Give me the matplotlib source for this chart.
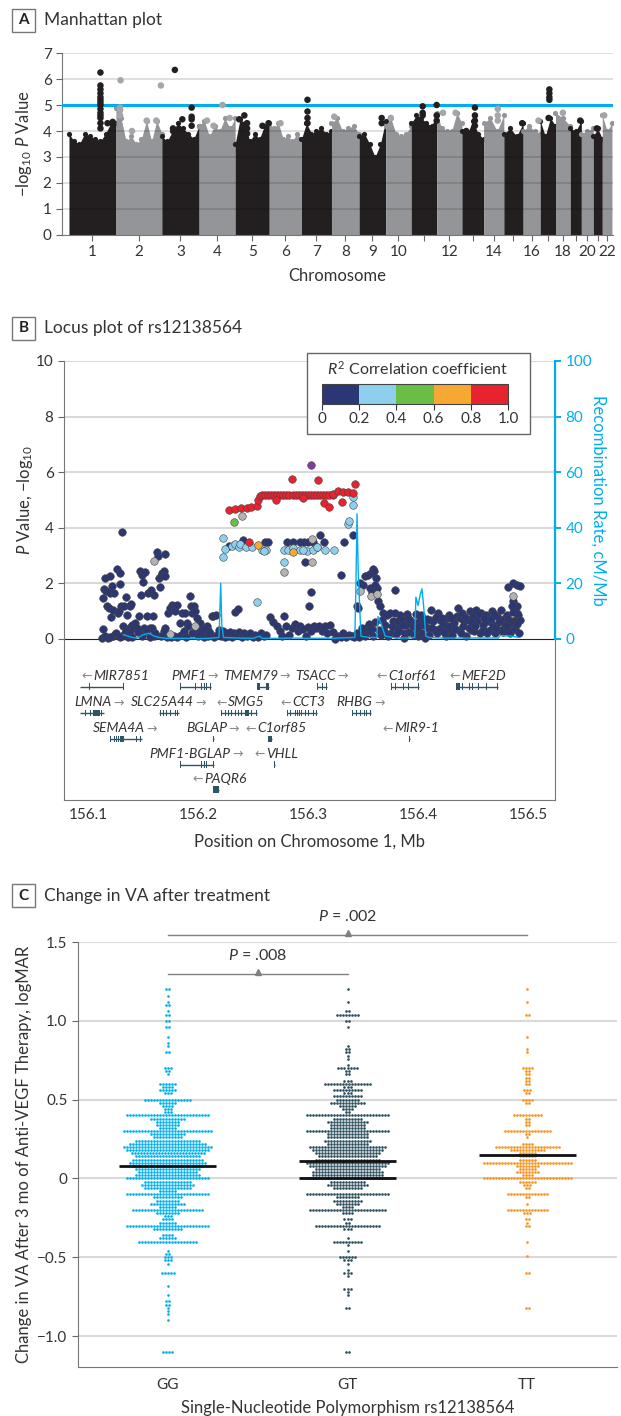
import numpy as np
import matplotlib as mpl
import matplotlib.pyplot as plt
from matplotlib.patches import Rectangle
from matplotlib.colors import ListedColormap, BoundaryNorm

plt.rcParams['font.family'] = ['Lato', 'DejaVu Sans']
plt.rcParams['mathtext.fontset'] = 'custom'
plt.rcParams['mathtext.rm'] = 'Lato'
plt.rcParams['mathtext.it'] = 'Lato:italic'
plt.rcParams['text.color'] = '#333333'
plt.rcParams['axes.labelcolor'] = '#333333'
plt.rcParams['xtick.color'] = '#666666'
plt.rcParams['ytick.color'] = '#666666'
plt.rcParams['xtick.labelcolor'] = '#333333'
plt.rcParams['ytick.labelcolor'] = '#333333'

# ---------------- Panel A: Manhattan plot data ----------------
chr_names = [str(i) for i in range(1, 23)]
chr_len = [249.3, 243.2, 198.0, 191.2, 180.9, 171.1, 159.1, 146.4, 141.2, 135.5, 135.0,
           133.9, 115.2, 107.3, 102.5, 90.4, 81.2, 78.1, 59.1, 63.0, 48.1, 51.3]
# top of the dense mass of SNPs along each chromosome (-log10 P)
chr_env = [
    [3.9, 3.6, 3.5, 3.9, 3.8, 3.7, 3.6, 3.9, 4.3, 4.3],
    [4.9, 4.5, 3.6, 3.8, 3.5, 3.7, 4.4, 3.6, 4.4, 3.9],
    [3.8, 3.6, 4.0, 4.3, 4.1, 3.9, 3.7, 4.2],
    [4.2, 4.4, 3.8, 4.2, 4.0, 4.5, 4.1, 4.5],
    [3.5, 4.45, 4.3, 3.6, 3.9, 3.7, 4.2, 4.3],
    [4.3, 4.1, 4.3, 3.7, 3.8, 3.6, 3.9, 3.7],
    [3.7, 4.3, 3.9, 4.0, 4.1, 3.9, 4.0],
    [4.3, 4.5, 4.0, 4.1, 4.2, 3.9],
    [3.8, 3.9, 3.5, 3.0, 3.5, 4.4],
    [4.2, 4.5, 3.9, 3.8, 3.9, 4.2],
    [4.3, 4.6, 4.5, 4.3, 4.2, 4.6],
    [4.7, 4.1, 4.0, 4.0, 4.7, 4.3],
    [4.0, 3.9, 4.4, 3.9, 3.7],
    [4.3, 4.5, 4.0, 4.6],
    [3.9, 4.1, 3.8, 4.3],
    [4.0, 4.2, 4.0, 3.9],
    [4.4, 3.8, 4.5, 4.2],
    [4.7, 4.5, 4.2],
    [4.1, 4.0, 4.4],
    [3.9, 4.0, 4.1],
    [3.8, 4.1, 3.7],
    [4.6, 4.0, 4.3],
]
# isolated top SNPs: chromosome index, relative position on chromosome, -log10 P
hit_chr = [0] * 16 + [1] * 8 + [2] * 7 + [3] * 4 + [4] * 7 + [5] + [6] * 4 + [7] + [8] * 2 + [9] \
    + [10] * 6 + [11] * 2 + [12] * 5 + [13] * 3 + [14] + [15] + [16] * 5 + [17] + [18] + [20] + [21]
hit_pos = [0.67] * 14 + [0.82, 0.93] \
    + [0.1, 0.09, 0.09, 0.09, 0.35, 0.67, 0.88, 0.98] \
    + [0.35, 0.8, 0.8, 0.8, 0.8, 0.55, 0.3] \
    + [0.65, 0.22, 0.4, 0.85] \
    + [0.27, 0.12, 0.35, 0.35, 0.35, 0.8, 0.98] \
    + [0.35] + [0.2] * 4 + [0.1] + [0.85, 0.85] + [0.2] \
    + [0.45, 0.45, 0.45, 1.0, 1.0, 1.0] + [0.25, 0.75] \
    + [0.6, 0.6, 0.6, 0.6, 0.2] + [0.7, 0.7, 0.7] + [0.95] + [0.9] \
    + [0.6, 0.6, 0.6, 0.6, 0.55] + [0.5] + [0.9] + [0.4] + [0.2]
hit_val = [6.25, 5.75, 5.6, 5.45, 5.3, 5.2, 5.1, 5.0, 4.85, 4.7, 4.6, 4.5, 4.3, 4.1, 4.3, 4.35,
           5.95, 4.9, 4.8, 4.6, 4.0, 4.4, 4.4, 5.75,
           6.35, 4.9, 4.55, 4.45, 4.2, 4.45, 4.1,
           5.0, 4.4, 4.2, 4.5,
           4.6, 4.45, 4.3, 4.1, 3.9, 4.2, 4.3,
           4.3, 5.2, 4.75, 4.5, 4.3, 4.55, 4.5, 4.3, 4.5,
           4.95, 4.7, 4.6, 5.0, 4.6, 4.4, 4.7, 4.7,
           4.9, 4.6, 4.4, 4.2, 4.0, 4.85, 4.6, 4.4, 4.3, 4.4,
           5.6, 5.45, 5.3, 5.2, 4.5, 4.7, 4.4, 4.1, 4.6]
threshold = 5.0

# ---------------- Panel B: locus plot data ----------------
navy_pts = [
    (156.1124, 0.04), (156.1133, 0.36), (156.1139, 1.47), (156.1145, 1.79), (156.1155, 2.19),
    (156.1164, 1.71), (156.117, 1.17), (156.1176, 0.04), (156.1185, 1.11), (156.1194, 2.27),
    (156.12, 1.65), (156.1206, 0.79), (156.1215, 1.89), (156.1224, 0.1), (156.123, 1.05),
    (156.1236, 1.65), (156.1245, 0.16), (156.126, 2.51), (156.1267, 0.93), (156.1276, 0.99),
    (156.1285, 2.37), (156.1291, 1.99), (156.1297, 1.2), (156.1303, 3.84), (156.1309, 0.1),
    (156.1315, 0.45), (156.1327, 1.2), (156.1336, 0.22), (156.1345, 1.51), (156.1352, 0.87),
    (156.1358, 0.07), (156.1367, 0.39), (156.1382, 1.17), (156.1388, 1.27), (156.1397, 0.51),
    (156.1412, 0.39), (156.1427, 0.57), (156.1442, 0.39), (156.1458, 0.84), (156.1473, 2.43),
    (156.1479, 1.59), (156.1488, 2.28), (156.1497, 2.03), (156.1509, 0.39), (156.1521, 2.39),
    (156.1533, 0.81), (156.1548, 1.65), (156.1558, 0.39), (156.157, 1.77), (156.1579, 0.39),
    (156.1588, 0.81), (156.1594, 1.59), (156.16, 0.12), (156.1624, 3.12), (156.1639, 2.97),
    (156.1648, 2.19), (156.1655, 1.85), (156.1661, 2.25), (156.167, 2.37), (156.1685, 2.43),
    (156.1694, 2.25), (156.17, 3.05), (156.17, 0.39), (156.1715, 0.07),
    (156.115, 0.12), (156.12, 0.08), (156.1255, 0.2), (156.129, 0.05), (156.134, 0.3),
    (156.138, 0.18), (156.14, 0.05), (156.145, 0.25), (156.149, 0.1), (156.153, 0.3),
    (156.1565, 0.05), (156.161, 0.22), (156.166, 0.12), (156.169, 0.3),
    (156.173, 0.93), (156.1745, 1.11), (156.1761, 1.23), (156.1776, 1.2), (156.1791, 0.99),
    (156.1806, 1.23), (156.1836, 0.57), (156.1852, 0.93), (156.1882, 0.93), (156.1897, 0.57),
    (156.1927, 1.55), (156.1933, 1.17), (156.1942, 0.93), (156.1958, 1.17), (156.1967, 0.99),
    (156.1988, 0.75), (156.2018, 0.57), (156.2079, 0.45), (156.2094, 0.33), (156.2124, 0.81),
    (156.2139, 0.83), (156.2164, 0.87), (156.2185, 0.33), (156.2336, 0.98), (156.2366, 1.07),
    (156.1725, 0.1), (156.1755, 0.05), (156.178, 0.12), (156.181, 0.06), (156.184, 0.15),
    (156.187, 0.3), (156.189, 0.08), (156.191, 0.45), (156.1945, 0.2), (156.197, 0.35),
    (156.1995, 0.1), (156.2005, 0.45), (156.203, 0.25), (156.205, 0.05), (156.2065, 0.35),
    (156.209, 0.1), (156.211, 0.2), (156.2145, 0.05), (156.217, 0.15), (156.2195, 0.25),
    (156.221, 0.1), (156.2225, 0.3), (156.224, 0.05), (156.2255, 0.2), (156.227, 0.12),
    (156.229, 0.25), (156.231, 0.05), (156.233, 0.2), (156.235, 0.15), (156.2375, 0.25),
    (156.2395, 0.08), (156.242, 0.2), (156.2445, 0.12), (156.247, 0.22), (156.2495, 0.08),
    (156.252, 0.15), (156.2545, 0.05), (156.257, 0.2), (156.2595, 0.1), (156.262, 0.15),
    (156.2655, 0.8), (156.2685, 0.62), (156.2715, 0.47), (156.274, 0.3), (156.2765, 0.1),
    (156.2782, 0.83), (156.28, 0.45), (156.2825, 0.15), (156.285, 0.4), (156.2882, 0.53),
    (156.2905, 0.3), (156.293, 0.45), (156.2955, 0.35), (156.298, 0.1), (156.3, 0.42),
    (156.3025, 0.3), (156.305, 0.45), (156.3075, 0.4), (156.31, 0.45), (156.3125, 0.3),
    (156.315, 0.45), (156.3175, 0.2), (156.32, 0.5), (156.3225, 0.25), (156.3245, 0.0),
    (156.327, 0.1), (156.3295, 0.05), (156.332, 0.2), (156.3345, 0.08), (156.337, 0.15),
    (156.3395, 0.12), (156.342, 0.05),
    (156.2276, 3.35), (156.2406, 3.56), (156.2609, 3.5), (156.2639, 3.5), (156.2806, 3.48),
    (156.2867, 3.48), (156.2927, 3.48), (156.2963, 3.48), (156.2999, 3.48), (156.3042, 3.48),
    (156.3109, 3.74), (156.3145, 3.48), (156.3327, 3.5), (156.3412, 3.74), (156.2973, 2.75),
    (156.33, 2.3), (156.3027, 1.7), (156.3012, 1.19),
    (156.3448, 1.2), (156.3457, 1.1), (156.3473, 2.0), (156.3503, 1.95), (156.3518, 2.25),
    (156.3548, 2.31), (156.3569, 2.37), (156.3588, 2.51), (156.36, 2.43), (156.3618, 2.19),
    (156.363, 1.83), (156.3609, 1.95), (156.3564, 1.83), (156.3579, 1.67), (156.3639, 1.35),
    (156.3654, 1.2), (156.379, 1.75),
    (156.4821, 1.87), (156.4866, 2.0), (156.4897, 1.95), (156.4927, 1.9), (156.4866, 1.35),
    (156.4897, 1.2), (156.4851, 1.2), (156.4897, 0.93), (156.4866, 0.63),
    (156.344, 0.22), (156.347, 0.22), (156.35, 0.33), (156.353, 0.39), (156.356, 0.28),
    (156.359, 0.1), (156.364, 0.33), (156.367, 0.69), (156.368, 0.93), (156.37, 0.51),
    (156.372, 0.87), (156.374, 0.93), (156.375, 0.22), (156.377, 0.63), (156.379, 0.93),
    (156.381, 0.39), (156.382, 0.63), (156.384, 0.87), (156.385, 0.69), (156.387, 0.04),
    (156.389, 0.51), (156.391, 0.75), (156.393, 0.69), (156.395, 0.45), (156.397, 0.57),
    (156.399, 0.33), (156.4, 0.1), (156.402, 0.69), (156.404, 0.22), (156.406, 0.04),
    (156.409, 0.39), (156.411, 0.69), (156.412, 1.05), (156.414, 0.63), (156.415, 0.33),
    (156.417, 0.22), (156.418, 0.93), (156.42, 0.69), (156.421, 0.39), (156.423, 0.57),
    (156.425, 0.1), (156.426, 0.75), (156.428, 0.87), (156.429, 0.33), (156.432, 0.69),
    (156.433, 0.57), (156.435, 0.81), (156.437, 0.33), (156.438, 0.75), (156.44, 0.93),
    (156.442, 0.63), (156.444, 0.1), (156.445, 0.69), (156.447, 0.99), (156.448, 0.33),
    (156.45, 0.81), (156.451, 0.28), (156.453, 1.05), (156.454, 0.63), (156.456, 0.22),
    (156.457, 0.93), (156.459, 0.51), (156.461, 0.28), (156.462, 0.87), (156.464, 0.63),
    (156.465, 0.33), (156.467, 0.99), (156.468, 0.51), (156.47, 0.22), (156.472, 0.81),
    (156.473, 0.33), (156.475, 1.05), (156.476, 0.69), (156.478, 0.39), (156.479, 0.75),
    (156.481, 0.87), (156.483, 0.33), (156.485, 0.57), (156.487, 0.63), (156.489, 0.63),
    (156.491, 0.87), (156.493, 0.69),
    (156.346, 0.05), (156.349, 0.4), (156.352, 0.12), (156.355, 0.55), (156.358, 0.35),
    (156.361, 0.6), (156.366, 0.15), (156.369, 0.3), (156.373, 0.12), (156.376, 0.45),
    (156.38, 0.18), (156.383, 0.3), (156.386, 0.5), (156.388, 0.2), (156.39, 0.9),
    (156.392, 0.25), (156.396, 0.15), (156.398, 0.9), (156.401, 0.45), (156.403, 0.85),
    (156.405, 0.5), (156.408, 0.7), (156.41, 0.15), (156.413, 0.4), (156.416, 0.8),
    (156.419, 0.35), (156.422, 0.75), (156.424, 0.25), (156.427, 0.45), (156.43, 0.75),
    (156.431, 0.15), (156.434, 0.35), (156.436, 1.1), (156.439, 0.2), (156.441, 0.45),
    (156.443, 0.8), (156.446, 0.4), (156.449, 0.6), (156.452, 0.45), (156.455, 0.9),
    (156.458, 0.3), (156.46, 0.75), (156.463, 0.2), (156.466, 0.7), (156.469, 0.9),
    (156.471, 0.4), (156.474, 0.6), (156.477, 0.25), (156.48, 0.5), (156.482, 0.7),
    (156.484, 0.2), (156.486, 0.95), (156.488, 0.35), (156.49, 0.55), (156.492, 0.2),
]
lightblue_pts = [
    (156.2224, 3.64), (156.2224, 2.94), (156.2245, 3.24), (156.2306, 3.35), (156.2336, 3.42),
    (156.2375, 3.3), (156.2382, 3.42), (156.2436, 3.32), (156.2488, 3.3), (156.2579, 3.2),
    (156.2618, 3.2), (156.2597, 3.15), (156.2533, 1.32), (156.2782, 3.2), (156.2821, 3.2),
    (156.2867, 3.26), (156.2782, 2.76), (156.2988, 3.17), (156.3042, 3.18), (156.3085, 3.3),
    (156.3154, 3.2), (156.3239, 3.2), (156.3366, 4.15), (156.3375, 4.25), (156.3412, 4.82),
    (156.3412, 5.1), (156.2927, 3.2), (156.2955, 3.2),
]
gray_pts = [
    (156.1594, 2.8), (156.2397, 4.42), (156.2785, 2.42), (156.3033, 2.78), (156.3033, 3.58),
    (156.3064, 3.26), (156.308, 3.3), (156.3473, 1.74), (156.357, 1.55), (156.363, 1.6),
    (156.486, 1.55), (156.1745, 0.18), (156.1973, 0.48),
]
orange_pts = [(156.2542, 3.38), (156.2867, 3.14)]
green_pts = [(156.2327, 4.2)]
red_pts = [
    (156.2285, 4.64), (156.2336, 4.68), (156.2388, 4.7), (156.2442, 4.72), (156.2479, 4.76),
    (156.2539, 4.78), (156.2548, 4.98), (156.2563, 5.14),
    (156.2578, 5.16), (156.2606, 5.17), (156.2634, 5.16), (156.2662, 5.17), (156.269, 5.16),
    (156.2718, 5.16), (156.2746, 5.17), (156.2774, 5.16), (156.2802, 5.16), (156.283, 5.17),
    (156.2858, 5.16), (156.2886, 5.16), (156.2914, 5.17), (156.2942, 5.16), (156.297, 5.16),
    (156.2998, 5.17), (156.3026, 5.16), (156.3054, 5.16), (156.3082, 5.17), (156.311, 5.16),
    (156.3138, 5.16), (156.3166, 5.17), (156.3194, 5.16), (156.3222, 5.18),
    (156.2709, 5.0), (156.2957, 5.06), (156.2851, 5.74), (156.3088, 5.72), (156.3145, 4.88),
    (156.3194, 4.76), (156.3306, 4.92), (156.323, 5.22), (156.3276, 5.32), (156.332, 5.3),
    (156.3366, 5.28), (156.3406, 5.24), (156.3427, 5.56), (156.2466, 3.5),
]
lead_snp = [(156.3024, 6.26)]

recomb_pos = [156.132, 156.136, 156.140, 156.145, 156.150, 156.155, 156.160, 156.165, 156.170, 156.180,
              156.190, 156.200, 156.210, 156.219, 156.2205, 156.2215, 156.223, 156.235, 156.250, 156.256,
              156.258, 156.270, 156.285, 156.300, 156.320, 156.3425, 156.3435, 156.3445, 156.3455, 156.348,
              156.355, 156.3625, 156.3635, 156.366, 156.370, 156.380, 156.390, 156.397, 156.398, 156.400,
              156.402, 156.4035, 156.405, 156.407, 156.410, 156.420, 156.440, 156.460, 156.473, 156.4745,
              156.485, 156.4915]
recomb_rate = [1.5, 1.0, 0.5, 0.3, 1.5, 2.0, 1.0, 0.5, 0.2, 0.2,
               0.2, 0.1, 0.2, 0.5, 20.0, 5.0, 0.5, 0.3, 0.2, 1.0,
               0.2, 0.2, 0.3, 0.2, 0.2, 0.5, 20.0, 45.0, 25.0, 1.0,
               0.5, 0.5, 8.0, 6.0, 1.0, 0.3, 0.3, 0.5, 15.0, 12.0,
               16.0, 18.0, 12.0, 1.0, 0.5, 0.3, 0.3, 0.3, 0.3, 1.2,
               1.0, 0.5]

# genes: name, start, end, track row, strand, exons (start, end)
genes = [
    ('MIR7851', 156.0921, 156.1321, 0, '-', [(156.1012, 156.1012), (156.1321, 156.1321)]),
    ('PMF1', 156.1836, 156.2115, 0, '+', [(156.1842, 156.1842), (156.1973, 156.1973), (156.2033, 156.2033),
                                          (156.2055, 156.2055), (156.2073, 156.2073), (156.2109, 156.2109)]),
    ('TMEM79', 156.2539, 156.2642, 0, '+', [(156.2539, 156.2563), (156.2618, 156.2642)]),
    ('TSACC', 156.3085, 156.3176, 0, '+', [(156.3085, 156.3085), (156.313, 156.313), (156.317, 156.317)]),
    ('C1orf61', 156.3755, 156.4012, 0, '-', [(156.3761, 156.3761), (156.3791, 156.3791), (156.3867, 156.3867),
                                             (156.3912, 156.3912), (156.4003, 156.4003)]),
    ('MEF2D', 156.4345, 156.473, 0, '-', [(156.4345, 156.4382), (156.4406, 156.4406), (156.4436, 156.4436),
                                          (156.4467, 156.4467), (156.4497, 156.4497), (156.4518, 156.4518),
                                          (156.4548, 156.4548), (156.4624, 156.4624), (156.4724, 156.4724)]),
    ('LMNA', 156.0921, 156.1148, 1, '+', [(156.0973, 156.0973), (156.1018, 156.1018), (156.1048, 156.1103),
                                          (156.1124, 156.1124)]),
    ('SLC25A44', 156.1648, 156.183, 1, '+', [(156.1655, 156.1655), (156.1685, 156.1685), (156.1715, 156.1715),
                                             (156.1745, 156.1745), (156.1791, 156.1791), (156.1812, 156.1821)]),
    ('SMG5', 156.2206, 156.2539, 1, '-', [(156.2212, 156.2212), (156.2245, 156.2245), (156.2276, 156.2276),
                                          (156.2306, 156.2306), (156.2336, 156.2336), (156.2367, 156.2367),
                                          (156.2397, 156.2397), (156.2427, 156.2458), (156.2488, 156.2488),
                                          (156.2533, 156.2533)]),
    ('CCT3', 156.2806, 156.3085, 1, '-', [(156.2812, 156.2812), (156.2842, 156.2842), (156.2882, 156.2882),
                                          (156.2903, 156.2903), (156.2921, 156.2921), (156.2942, 156.2942),
                                          (156.2973, 156.2973), (156.3003, 156.3003), (156.3048, 156.3048),
                                          (156.3079, 156.3079)]),
    ('RHBG', 156.3403, 156.357, 1, '+', [(156.3403, 156.3403), (156.3442, 156.3442), (156.3473, 156.3473),
                                         (156.3509, 156.3509), (156.3533, 156.3533), (156.3564, 156.3564)]),
    ('SEMA4A', 156.12, 156.1488, 2, '+', [(156.1206, 156.1206), (156.1236, 156.1236), (156.1255, 156.1255),
                                          (156.1276, 156.1276), (156.1291, 156.1327), (156.1442, 156.1442),
                                          (156.1473, 156.1473)]),
    ('BGLAP', 156.2133, 156.2142, 2, '+', [(156.2133, 156.2142)]),
    ('C1orf85', 156.2636, 156.2667, 2, '-', [(156.2636, 156.2667)]),
    ('MIR9-1', 156.3918, 156.3922, 2, '-', [(156.3918, 156.3922)]),
    ('PMF1-BGLAP', 156.1836, 156.2145, 3, '+', [(156.1842, 156.1842), (156.2033, 156.2033), (156.2055, 156.2055),
                                                (156.2073, 156.2073), (156.2139, 156.2139)]),
    ('VHLL', 156.2694, 156.2703, 3, '-', [(156.2694, 156.2703)]),
    ('PAQR6', 156.2139, 156.2188, 4, '-', [(156.2139, 156.2188)]),
]
track_line_y = [-1.72, -2.67, -3.61, -4.53, -5.43]
# label nudges (points) so that neighbouring gene labels do not collide
label_nudge = {'MIR7851': 9, 'LMNA': 6, 'TMEM79': -4, 'C1orf85': 4, 'PAQR6': 2}

# ---------------- Panel C: change in VA data ----------------
genotypes = ['GG', 'GT', 'TT']
gg_vals = [1.2, 1.16, 1.12, 1.1, 1.06, 1.04, 1.0, 0.96, 0.9, 0.86, 0.84, 0.8, 0.7, 0.68, 0.66, 0.6, 0.58,
           0.56, 0.54, 0.5, 0.48, 0.46, 0.44, 0.42, 0.4, 0.38, 0.36, 0.34, 0.32, 0.3, 0.28, 0.26, 0.24,
           0.22, 0.2, 0.18, 0.16, 0.14, 0.12, 0.1, 0.08, 0.06, 0.04, 0.02, 0.0, -0.02, -0.04, -0.06,
           -0.08, -0.1, -0.12, -0.14, -0.16, -0.18, -0.2, -0.22, -0.24, -0.26, -0.28, -0.3, -0.32, -0.36,
           -0.38, -0.4, -0.46, -0.48, -0.5, -0.52, -0.54, -0.6, -0.68, -0.74, -0.78, -0.8, -0.82, -0.84,
           -0.86, -0.9, -1.1]
gg_counts = [2, 1, 1, 2, 1, 2, 2, 2, 1, 1, 1, 2, 3, 2, 1, 6, 4, 6, 3, 16, 6, 4, 3, 3, 28, 12, 8, 8, 6, 30,
             12, 10, 22, 26, 30, 28, 25, 22, 24, 26, 24, 22, 20, 22, 28, 16, 18, 16, 6, 28, 10, 8, 12, 6,
             24, 8, 3, 4, 6, 28, 10, 4, 6, 20, 1, 2, 3, 3, 1, 5, 1, 1, 2, 2, 1, 1, 1, 1, 4]
gt_vals = [1.2, 1.12, 1.06, 1.04, 1.0, 0.96, 0.84, 0.82, 0.8, 0.78, 0.76, 0.72, 0.7, 0.68, 0.66, 0.62, 0.6,
           0.58, 0.56, 0.54, 0.52, 0.5, 0.48, 0.46, 0.44, 0.42, 0.4, 0.38, 0.36, 0.34, 0.32, 0.3, 0.28,
           0.26, 0.24, 0.22, 0.2, 0.18, 0.16, 0.14, 0.12, 0.1, 0.08, 0.06, 0.04, 0.02, 0.0, -0.02, -0.04,
           -0.06, -0.1, -0.12, -0.14, -0.16, -0.18, -0.2, -0.22, -0.26, -0.28, -0.3, -0.32, -0.38, -0.4,
           -0.42, -0.46, -0.5, -0.52, -0.54, -0.58, -0.6, -0.62, -0.7, -0.72, -0.74, -0.82, -1.1]
gt_counts = [1, 1, 2, 8, 2, 1, 1, 2, 2, 1, 1, 1, 7, 2, 2, 3, 16, 3, 10, 3, 10, 8, 12, 6, 4, 2, 28, 10, 14,
             12, 12, 28, 14, 14, 16, 14, 26, 24, 22, 20, 22, 28, 26, 22, 24, 24, 28, 12, 14, 10, 28, 8, 10,
             8, 4, 26, 4, 3, 2, 22, 3, 1, 10, 1, 1, 6, 3, 1, 1, 3, 1, 3, 1, 1, 2, 2]
tt_vals = [1.2, 1.12, 1.04, 0.9, 0.82, 0.8, 0.7, 0.68, 0.66, 0.64, 0.62, 0.6, 0.56, 0.54, 0.5, 0.48, 0.4,
           0.38, 0.36, 0.34, 0.3, 0.28, 0.26, 0.22, 0.2, 0.18, 0.16, 0.14, 0.12, 0.1, 0.08, 0.06, 0.04,
           0.02, 0.0, -0.02, -0.04, -0.06, -0.1, -0.12, -0.16, -0.2, -0.22, -0.26, -0.28, -0.3, -0.4,
           -0.49, -0.6, -0.82]
tt_counts = [1, 1, 2, 1, 1, 1, 4, 2, 2, 2, 2, 2, 3, 2, 4, 2, 10, 2, 2, 2, 16, 2, 1, 4, 22, 12, 6, 6, 6, 30,
             8, 6, 8, 4, 30, 6, 3, 2, 14, 2, 1, 14, 3, 2, 1, 2, 1, 1, 2, 2]
center_lines = [[0.08], [0.11, 0.0], [0.15]]
comparisons = [(0, 1, 1.30, '.008'), (0, 2, 1.545, '.002')]

# ---------------- colours ----------------
BLACK = '#231f20'
GREY = '#939598'
BLUE = '#00aeef'
ld_colors = ['#2b3674', '#8ecfee', '#6abd45', '#f7a833', '#e8222e']
geno_colors = ['#00aeef', '#2a4d5c', '#f7941d']
GENE = '#2f5564'

W, H = 621, 1416
fig = plt.figure(figsize=(W / 100, H / 100), dpi=100)


def box(l, t, r, b):
    return [l / W, 1 - b / H, (r - l) / W, (b - t) / H]


def panel_title(letter, title, top):
    fig.add_artist(Rectangle((12 / W, 1 - (top + 23) / H), 23 / W, 23 / H, transform=fig.transFigure,
                             facecolor='white', edgecolor='#777777', lw=1))
    fig.text(23.5 / W, 1 - (top + 11.5) / H, letter, ha='center', va='center', fontsize=11,
             fontweight='bold', color='#222222')
    fig.text(44 / W, 1 - (top + 11.5) / H, title, ha='left', va='center', fontsize=12.5, color='#333333')


# ======== Panel A ========
panel_title('A', 'Manhattan plot', 9)
axA = fig.add_axes(box(62, 53, 613, 235))
starts = np.concatenate([[0], np.cumsum(chr_len)[:-1]])
centers = starts + np.array(chr_len) / 2
for i, (s, ln, env) in enumerate(zip(starts, chr_len, chr_env)):
    c = BLACK if i % 2 == 0 else GREY
    xs = np.linspace(s, s + ln, len(env))
    axA.fill_between(xs, 0, env, color=c, lw=0, zorder=1)
    axA.scatter(xs, env, s=14, color=c, lw=0, zorder=1)
hx = [starts[c] + p * chr_len[c] for c, p in zip(hit_chr, hit_pos)]
hc = [BLACK if c % 2 == 0 else '#a4a6a9' for c in hit_chr]
axA.scatter(hx, hit_val, s=22, c=hc, lw=0, zorder=5)
for v in range(1, 8):
    axA.axhline(v, color='black', alpha=0.13, lw=1.4, zorder=3)
axA.axhline(threshold, color=BLUE, lw=2.2, zorder=4)
axA.set_xlim(-37, 2886.5)
axA.set_ylim(0, 7)
axA.set_yticks(range(0, 8))
axA.set_xticks(centers)
axA.set_xticklabels([n if (int(n) <= 10 or int(n) % 2 == 0) else '' for n in chr_names])
axA.tick_params(labelsize=11, length=4)
for sp in ['top', 'right']:
    axA.spines[sp].set_visible(False)
for sp in ['left', 'bottom']:
    axA.spines[sp].set_color('#777777')
axA.set_xlabel('Chromosome', fontsize=12, labelpad=6)
axA.set_ylabel('\u2212log$_{10}$ $\\it{P}$ Value', fontsize=12, labelpad=6)

# ======== Panel B ========
panel_title('B', 'Locus plot of rs12138564', 317)
axB = fig.add_axes(box(64, 361, 555, 800))
axB.set_xlim(156.078, 156.5245)
axB.set_ylim(-5.8, 10)
for v in [2, 4, 6, 8, 10]:
    axB.axhline(v, color='#d9d9d9', lw=1.5, zorder=0)
axB.axhline(0, color='#222222', lw=0.8, zorder=1)
groups = [(navy_pts, ld_colors[0]), (gray_pts, '#b3b3b3'), (lightblue_pts, ld_colors[1]),
          (orange_pts, ld_colors[3]), (green_pts, ld_colors[2]), (red_pts, ld_colors[4]),
          (lead_snp, '#7e3f98')]
for k, (pts, col) in enumerate(groups):
    arr = np.array(pts)
    axB.scatter(arr[:, 0], arr[:, 1], s=30, color=col, edgecolor='#444444', lw=0.4, zorder=2 + k)

for name, s, e, row, strand, exons in genes:
    yl = track_line_y[row]
    axB.plot([s, e], [yl, yl], color=GENE, lw=1, solid_capstyle='butt', zorder=2)
    bars = [(a, max(b - a, 0.0008)) if b > a else (a - 0.0004, 0.0008) for a, b in exons]
    axB.broken_barh(bars, (yl - 0.12, 0.24), facecolors=GENE, zorder=2)
    cx = (s + e) / 2
    shift = (5 if strand == '-' else -5) + label_nudge.get(name, 0)
    t = axB.annotate(name, xy=(cx, yl + 0.4), xytext=(shift, 0), textcoords='offset points',
                     ha='center', va='center', fontsize=10, style='italic', color='#333333')
    if strand == '-':
        axB.annotate('\u2190', xy=(0, 0.42), xycoords=t, xytext=(-1, 0), textcoords='offset points',
                     ha='right', va='center', fontsize=9, color='#8a8a8a', family='DejaVu Sans')
    else:
        axB.annotate('\u2192', xy=(1, 0.42), xycoords=t, xytext=(1, 0), textcoords='offset points',
                     ha='left', va='center', fontsize=9, color='#8a8a8a', family='DejaVu Sans')

axB.set_yticks([0, 2, 4, 6, 8, 10])
axB.set_xticks([156.1, 156.2, 156.3, 156.4, 156.5])
axB.set_xticklabels(['156.1', '156.2', '156.3', '156.4', '156.5'])
axB.tick_params(axis='y', labelsize=11, length=4)
axB.tick_params(axis='x', labelsize=11, length=0, pad=6)
axB.spines['top'].set_visible(False)
for sp in ['left', 'bottom', 'right']:
    axB.spines[sp].set_color('#777777')
axB.set_xlabel('Position on Chromosome 1, Mb', fontsize=12, labelpad=8)
axB.set_ylabel('$\\it{P}$ Value, \u2212log$_{10}$', fontsize=12)
axB.yaxis.set_label_coords(-0.06, 0.683)

axR = axB.twinx()
axR.set_ylim(-58, 100)
axR.plot(recomb_pos, recomb_rate, color=BLUE, lw=1.0, zorder=3)
for sp in ['top', 'left', 'bottom']:
    axR.spines[sp].set_visible(False)
axR.spines['right'].set_color(BLUE)
axR.spines['right'].set_linewidth(1.6)
axR.spines['right'].set_bounds(0, 100)
axR.set_yticks([0, 20, 40, 60, 80, 100])
axR.tick_params(axis='y', colors=BLUE, labelcolor=BLUE, labelsize=11, length=4, width=1.4)
axR.set_ylabel('Recombination Rate, cM/Mb', color=BLUE, fontsize=12, rotation=-90)
axR.yaxis.set_label_coords(1.105, 0.683)

# R^2 legend
fig.add_artist(Rectangle((307 / W, 1 - 434 / H), 223 / W, 81 / H, transform=fig.transFigure,
                         facecolor='white', edgecolor='#666666', lw=1, zorder=2))
fig.text(418 / W, 1 - 369 / H, '$\\it{R}^2$ Correlation coefficient', ha='center', va='center',
         fontsize=11.5, color='#333333', zorder=4)
cax = fig.add_axes(box(322, 384, 508, 404))
cax.set_zorder(5)
bounds = [0, 0.2, 0.4, 0.6, 0.8, 1.0]
cb = mpl.colorbar.ColorbarBase(cax, cmap=ListedColormap(ld_colors), norm=BoundaryNorm(bounds, 5),
                               orientation='horizontal', ticks=bounds)
cb.set_ticklabels(['0', '0.2', '0.4', '0.6', '0.8', '1.0'])
cb.outline.set_edgecolor('#444444')
cax.tick_params(labelsize=11, length=4, color='#333333', pad=2)

# ======== Panel C ========
panel_title('C', 'Change in VA after treatment', 884)
axC = fig.add_axes(box(78, 942, 617, 1367))
axC.set_xlim(-0.5, 2.5)
axC.set_ylim(-1.196, 1.5)
for v in [-1.0, -0.5, 0, 0.5, 1.0, 1.5]:
    axC.axhline(v, color='#d9d9d9', lw=1.5, zorder=0)
step = 0.0167
for i, (vals, counts) in enumerate([(gg_vals, gg_counts), (gt_vals, gt_counts), (tt_vals, tt_counts)]):
    xs, ys = [], []
    for v, n in zip(vals, counts):
        offs = (np.arange(n) - (n - 1) / 2) * step
        xs.extend(i + offs)
        ys.extend([v] * n)
    axC.scatter(xs, ys, s=3.6, color=geno_colors[i], lw=0, zorder=2)
    for y in center_lines[i]:
        axC.hlines(y, i - 0.27, i + 0.27, color='#111111', lw=2, zorder=4)
for a, b, y, p in comparisons:
    axC.plot([a, b], [y, y], color='#808080', lw=1, clip_on=False)
    axC.plot([(a + b) / 2], [y + 0.012], marker='^', ms=5, color='#808080', clip_on=False)
    axC.text((a + b) / 2, y + 0.115, '$\\it{P}$ = ' + p, ha='center', va='center', fontsize=11.5,
             color='#333333')
axC.set_xticks(range(3))
axC.set_xticklabels(genotypes)
axC.set_yticks([-1.0, -0.5, 0, 0.5, 1.0, 1.5])
axC.set_yticklabels(['\u22121.0', '\u22120.5', '0', '0.5', '1.0', '1.5'])
axC.tick_params(axis='y', labelsize=11, length=4)
axC.tick_params(axis='x', labelsize=11, length=0, pad=8)
for sp in ['top', 'right']:
    axC.spines[sp].set_visible(False)
for sp in ['left', 'bottom']:
    axC.spines[sp].set_color('#777777')
axC.set_xlabel('Single-Nucleotide Polymorphism rs12138564', fontsize=12, labelpad=6)
axC.set_ylabel('Change in VA After 3 mo of Anti-VEGF Therapy, logMAR', fontsize=12)

fig.savefig('out.png', dpi=100)
